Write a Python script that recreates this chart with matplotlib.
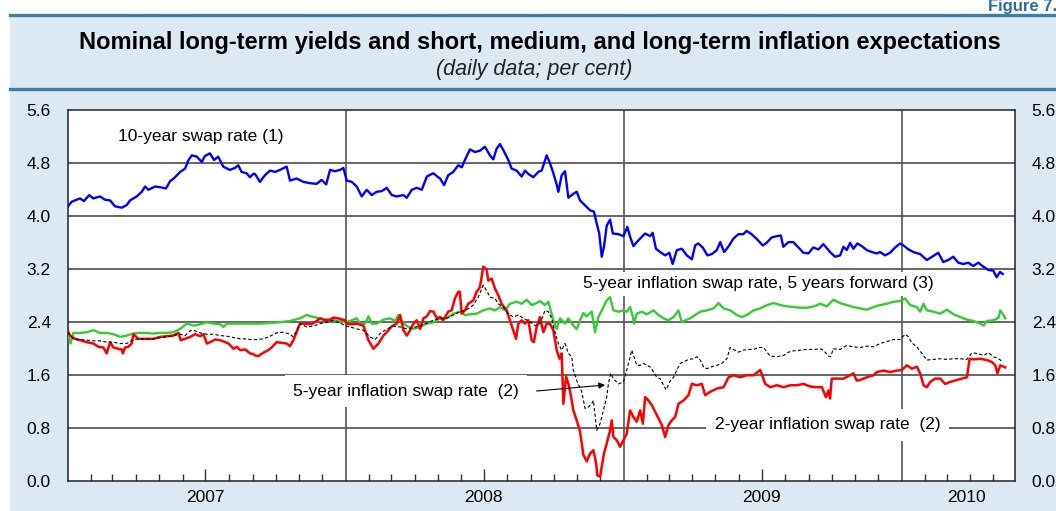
import datetime as dt
import matplotlib
matplotlib.use("Agg")
import matplotlib.pyplot as plt
from matplotlib.patches import Rectangle
from matplotlib.lines import Line2D

plt.rcParams['font.family'] = ['Liberation Sans', 'DejaVu Sans']

# ---------------- data (decimal years, per cent) ----------------
swap10_t = [2007.000, 2007.015, 2007.033, 2007.045, 2007.059, 2007.078, 2007.093, 2007.117, 2007.135, 2007.153,
            2007.171, 2007.195, 2007.213, 2007.225, 2007.249, 2007.267, 2007.279, 2007.291, 2007.315, 2007.333,
            2007.354, 2007.369, 2007.387, 2007.405, 2007.423, 2007.434, 2007.447, 2007.465, 2007.483, 2007.494,
            2007.512, 2007.527, 2007.542, 2007.560, 2007.584, 2007.602, 2007.614, 2007.626, 2007.644, 2007.656,
            2007.668, 2007.674, 2007.692, 2007.710, 2007.728, 2007.746, 2007.764, 2007.788, 2007.800, 2007.824,
            2007.848, 2007.872, 2007.896, 2007.914, 2007.930, 2007.944, 2007.962, 2007.980, 2007.992, 2008.004,
            2008.022, 2008.040, 2008.058, 2008.076, 2008.094, 2008.112, 2008.130, 2008.148, 2008.166, 2008.184,
            2008.208, 2008.220, 2008.238, 2008.256, 2008.274, 2008.292, 2008.315, 2008.333, 2008.340, 2008.354,
            2008.369, 2008.387, 2008.405, 2008.418, 2008.429, 2008.447, 2008.465, 2008.483, 2008.501, 2008.519,
            2008.531, 2008.543, 2008.555, 2008.567, 2008.585, 2008.597, 2008.615, 2008.633, 2008.645, 2008.657,
            2008.675, 2008.693, 2008.705, 2008.723, 2008.735, 2008.747, 2008.759, 2008.765, 2008.777, 2008.789,
            2008.801, 2008.819, 2008.831, 2008.843, 2008.855, 2008.867, 2008.879, 2008.893, 2008.903, 2008.912,
            2008.921, 2008.929, 2008.939, 2008.951, 2008.961, 2008.981, 2008.999, 2009.013, 2009.023, 2009.035,
            2009.047, 2009.065, 2009.077, 2009.095, 2009.104, 2009.116, 2009.131, 2009.149, 2009.164, 2009.176,
            2009.191, 2009.209, 2009.227, 2009.245, 2009.257, 2009.268, 2009.284, 2009.301, 2009.317, 2009.335,
            2009.347, 2009.361, 2009.376, 2009.394, 2009.412, 2009.430, 2009.442, 2009.460, 2009.478, 2009.500,
            2009.514, 2009.532, 2009.550, 2009.565, 2009.574, 2009.592, 2009.610, 2009.628, 2009.646, 2009.664,
            2009.682, 2009.700, 2009.718, 2009.742, 2009.760, 2009.778, 2009.790, 2009.802, 2009.814, 2009.826,
            2009.840, 2009.856, 2009.874, 2009.892, 2009.910, 2009.922, 2009.940, 2009.958, 2009.976, 2009.994,
            2010.006, 2010.024, 2010.042, 2010.066, 2010.090, 2010.113, 2010.131, 2010.149, 2010.167, 2010.185,
            2010.203, 2010.221, 2010.239, 2010.257, 2010.275, 2010.293, 2010.311, 2010.329, 2010.341, 2010.353,
            2010.363]
swap10_v = [4.14, 4.22, 4.25, 4.27, 4.23, 4.32, 4.27, 4.30, 4.25, 4.24,
            4.15, 4.13, 4.17, 4.24, 4.30, 4.37, 4.45, 4.40, 4.45, 4.44,
            4.42, 4.53, 4.59, 4.67, 4.72, 4.84, 4.92, 4.90, 4.82, 4.91,
            4.95, 4.85, 4.90, 4.75, 4.70, 4.73, 4.77, 4.67, 4.65, 4.59,
            4.64, 4.64, 4.52, 4.62, 4.69, 4.67, 4.70, 4.75, 4.54, 4.57,
            4.52, 4.50, 4.49, 4.55, 4.48, 4.70, 4.68, 4.70, 4.73, 4.54,
            4.52, 4.45, 4.30, 4.40, 4.32, 4.37, 4.38, 4.43, 4.32, 4.30,
            4.32, 4.28, 4.40, 4.43, 4.40, 4.60, 4.65, 4.59, 4.57, 4.47,
            4.62, 4.67, 4.77, 4.74, 4.85, 5.01, 4.97, 4.99, 5.05, 4.92,
            4.86, 5.02, 5.09, 5.00, 4.85, 4.72, 4.69, 4.60, 4.69, 4.64,
            4.59, 4.67, 4.69, 4.92, 4.80, 4.65, 4.48, 4.37, 4.62, 4.68,
            4.28, 4.34, 4.37, 4.24, 4.19, 4.14, 4.09, 4.07, 3.89, 3.74,
            3.39, 3.54, 3.86, 3.95, 3.74, 3.73, 3.70, 3.84, 3.69, 3.55,
            3.61, 3.69, 3.74, 3.70, 3.75, 3.51, 3.46, 3.41, 3.45, 3.28,
            3.49, 3.51, 3.41, 3.35, 3.56, 3.59, 3.53, 3.41, 3.43, 3.49,
            3.61, 3.46, 3.54, 3.66, 3.73, 3.73, 3.78, 3.73, 3.66, 3.56,
            3.60, 3.68, 3.70, 3.71, 3.54, 3.61, 3.61, 3.53, 3.45, 3.44,
            3.53, 3.50, 3.58, 3.46, 3.39, 3.41, 3.54, 3.49, 3.60, 3.51,
            3.59, 3.55, 3.49, 3.46, 3.44, 3.46, 3.41, 3.45, 3.53, 3.59,
            3.56, 3.50, 3.46, 3.43, 3.34, 3.40, 3.45, 3.31, 3.34, 3.39,
            3.30, 3.28, 3.30, 3.25, 3.30, 3.24, 3.19, 3.18, 3.08, 3.16,
            3.13]

infl2_t = [2007.000, 2007.009, 2007.027, 2007.045, 2007.069, 2007.093, 2007.111, 2007.129, 2007.141, 2007.153,
           2007.165, 2007.183, 2007.195, 2007.199, 2007.207, 2007.219, 2007.231, 2007.237, 2007.255, 2007.285,
           2007.309, 2007.333, 2007.357, 2007.381, 2007.399, 2007.407, 2007.423, 2007.441, 2007.459, 2007.477,
           2007.489, 2007.501, 2007.513, 2007.531, 2007.549, 2007.567, 2007.579, 2007.597, 2007.609, 2007.621,
           2007.639, 2007.657, 2007.669, 2007.674, 2007.686, 2007.704, 2007.722, 2007.734, 2007.752, 2007.770,
           2007.788, 2007.800, 2007.812, 2007.824, 2007.836, 2007.854, 2007.878, 2007.896, 2007.908, 2007.926,
           2007.944, 2007.956, 2007.974, 2007.998, 2008.004, 2008.022, 2008.040, 2008.064, 2008.082, 2008.100,
           2008.118, 2008.136, 2008.154, 2008.166, 2008.184, 2008.196, 2008.208, 2008.220, 2008.232, 2008.244,
           2008.256, 2008.268, 2008.280, 2008.292, 2008.304, 2008.316, 2008.328, 2008.339, 2008.351, 2008.369,
           2008.381, 2008.393, 2008.405, 2008.411, 2008.417, 2008.429, 2008.441, 2008.459, 2008.471, 2008.483,
           2008.495, 2008.507, 2008.513, 2008.525, 2008.537, 2008.549, 2008.561, 2008.579, 2008.591, 2008.603,
           2008.613, 2008.621, 2008.633, 2008.645, 2008.657, 2008.669, 2008.677, 2008.687, 2008.699, 2008.711,
           2008.723, 2008.735, 2008.747, 2008.759, 2008.769, 2008.777, 2008.783, 2008.793, 2008.801, 2008.809,
           2008.819, 2008.831, 2008.843, 2008.855, 2008.867, 2008.879, 2008.891, 2008.901, 2008.905, 2008.915,
           2008.921, 2008.929, 2008.939, 2008.951, 2008.957, 2008.963, 2008.975, 2008.987, 2008.999, 2009.011,
           2009.023, 2009.035, 2009.047, 2009.059, 2009.069, 2009.077, 2009.089, 2009.101, 2009.113, 2009.125,
           2009.137, 2009.149, 2009.161, 2009.173, 2009.185, 2009.197, 2009.215, 2009.233, 2009.245, 2009.263,
           2009.281, 2009.293, 2009.311, 2009.335, 2009.359, 2009.377, 2009.395, 2009.419, 2009.443, 2009.467,
           2009.491, 2009.509, 2009.527, 2009.551, 2009.575, 2009.599, 2009.623, 2009.647, 2009.671, 2009.695,
           2009.713, 2009.727, 2009.736, 2009.742, 2009.748, 2009.766, 2009.790, 2009.814, 2009.826, 2009.838,
           2009.850, 2009.874, 2009.898, 2009.910, 2009.934, 2009.958, 2009.982, 2010.000, 2010.018, 2010.036,
           2010.054, 2010.066, 2010.078, 2010.090, 2010.102, 2010.120, 2010.138, 2010.156, 2010.174, 2010.198,
           2010.216, 2010.234, 2010.244, 2010.258, 2010.282, 2010.306, 2010.324, 2010.336, 2010.344, 2010.354,
           2010.372]
infl2_v = [2.28, 2.20, 2.15, 2.13, 2.10, 2.08, 2.03, 2.02, 1.93, 2.10,
           2.02, 2.00, 1.99, 1.93, 2.02, 2.03, 2.08, 2.22, 2.15, 2.15,
           2.15, 2.18, 2.19, 2.20, 2.24, 2.13, 2.15, 2.18, 2.22, 2.19,
           2.22, 2.08, 2.10, 2.14, 2.13, 2.10, 2.08, 2.00, 2.03, 1.98,
           1.99, 1.93, 1.92, 1.90, 1.89, 1.94, 1.98, 2.02, 2.10, 2.09,
           2.08, 2.04, 2.13, 2.25, 2.38, 2.38, 2.37, 2.42, 2.46, 2.43,
           2.44, 2.47, 2.46, 2.43, 2.38, 2.37, 2.38, 2.35, 2.13, 2.00,
           2.08, 2.20, 2.28, 2.34, 2.38, 2.51, 2.28, 2.20, 2.28, 2.38,
           2.43, 2.30, 2.46, 2.49, 2.57, 2.56, 2.46, 2.48, 2.43, 2.56,
           2.58, 2.76, 2.86, 2.86, 2.53, 2.58, 2.68, 2.73, 2.86, 2.93,
           3.24, 3.20, 3.03, 3.06, 2.91, 2.81, 2.68, 2.58, 2.43, 2.28,
           2.15, 2.38, 2.43, 2.38, 2.43, 2.13, 2.10, 2.33, 2.48, 2.25,
           2.38, 2.38, 2.28, 1.98, 1.85, 1.93, 1.17, 1.58, 1.47, 1.32,
           1.07, 0.92, 0.75, 0.40, 0.30, 0.42, 0.47, 0.27, 0.09, 0.07,
           0.22, 0.42, 0.57, 0.77, 0.92, 0.67, 0.62, 0.52, 0.62, 0.72,
           1.07, 0.97, 0.90, 1.07, 0.87, 1.27, 1.22, 1.15, 1.05, 0.95,
           0.85, 0.67, 0.85, 0.92, 0.97, 1.17, 1.22, 1.30, 1.47, 1.45,
           1.47, 1.30, 1.35, 1.40, 1.42, 1.57, 1.60, 1.57, 1.60, 1.60,
           1.68, 1.47, 1.42, 1.45, 1.42, 1.45, 1.45, 1.47, 1.43, 1.42,
           1.42, 1.27, 1.37, 1.25, 1.55, 1.55, 1.55, 1.60, 1.63, 1.52,
           1.53, 1.57, 1.60, 1.65, 1.67, 1.65, 1.67, 1.68, 1.75, 1.70,
           1.73, 1.63, 1.45, 1.42, 1.50, 1.55, 1.55, 1.47, 1.50, 1.53,
           1.55, 1.57, 1.85, 1.84, 1.85, 1.83, 1.80, 1.75, 1.63, 1.75,
           1.72]

infl5_t = [2007.000, 2007.021, 2007.045, 2007.069, 2007.093, 2007.117, 2007.141, 2007.165, 2007.189, 2007.213,
           2007.237, 2007.261, 2007.285, 2007.309, 2007.333, 2007.357, 2007.381, 2007.405, 2007.423, 2007.441,
           2007.453, 2007.477, 2007.501, 2007.525, 2007.549, 2007.573, 2007.597, 2007.621, 2007.645, 2007.656,
           2007.680, 2007.704, 2007.728, 2007.752, 2007.776, 2007.800, 2007.812, 2007.836, 2007.860, 2007.884,
           2007.908, 2007.932, 2007.956, 2007.980, 2007.998, 2008.016, 2008.040, 2008.064, 2008.088, 2008.106,
           2008.124, 2008.148, 2008.172, 2008.196, 2008.220, 2008.244, 2008.268, 2008.292, 2008.316, 2008.340,
           2008.363, 2008.387, 2008.411, 2008.435, 2008.459, 2008.477, 2008.495, 2008.507, 2008.519, 2008.537,
           2008.549, 2008.567, 2008.585, 2008.603, 2008.621, 2008.639, 2008.663, 2008.681, 2008.699, 2008.717,
           2008.729, 2008.741, 2008.753, 2008.765, 2008.777, 2008.789, 2008.801, 2008.813, 2008.819, 2008.831,
           2008.849, 2008.861, 2008.873, 2008.885, 2008.891, 2008.903, 2008.915, 2008.927, 2008.939, 2008.945,
           2008.953, 2008.963, 2008.981, 2008.999, 2009.011, 2009.023, 2009.029, 2009.041, 2009.047, 2009.059,
           2009.071, 2009.083, 2009.095, 2009.107, 2009.119, 2009.131, 2009.143, 2009.153, 2009.165, 2009.179,
           2009.191, 2009.203, 2009.215, 2009.233, 2009.251, 2009.263, 2009.275, 2009.287, 2009.299, 2009.317,
           2009.335, 2009.353, 2009.371, 2009.383, 2009.395, 2009.413, 2009.431, 2009.449, 2009.467, 2009.485,
           2009.503, 2009.515, 2009.527, 2009.551, 2009.575, 2009.593, 2009.611, 2009.635, 2009.659, 2009.683,
           2009.707, 2009.718, 2009.736, 2009.744, 2009.754, 2009.778, 2009.802, 2009.826, 2009.850, 2009.874,
           2009.898, 2009.922, 2009.946, 2009.970, 2009.994, 2010.012, 2010.024, 2010.036, 2010.054, 2010.072,
           2010.090, 2010.114, 2010.138, 2010.162, 2010.186, 2010.210, 2010.234, 2010.252, 2010.270, 2010.294,
           2010.312, 2010.330, 2010.348, 2010.364]
infl5_v = [2.25, 2.15, 2.14, 2.13, 2.12, 2.12, 2.10, 2.10, 2.08, 2.08,
           2.14, 2.15, 2.15, 2.15, 2.17, 2.18, 2.20, 2.22, 2.20, 2.27,
           2.28, 2.24, 2.22, 2.22, 2.20, 2.19, 2.17, 2.15, 2.15, 2.14,
           2.14, 2.15, 2.19, 2.24, 2.25, 2.22, 2.18, 2.38, 2.33, 2.34,
           2.38, 2.40, 2.43, 2.39, 2.35, 2.33, 2.30, 2.28, 2.18, 2.14,
           2.23, 2.30, 2.34, 2.33, 2.30, 2.32, 2.35, 2.39, 2.43, 2.46,
           2.46, 2.51, 2.56, 2.59, 2.66, 2.78, 2.96, 2.88, 2.78, 2.76,
           2.68, 2.63, 2.53, 2.48, 2.51, 2.46, 2.41, 2.35, 2.38, 2.58,
           2.56, 2.46, 2.25, 2.08, 1.98, 2.08, 1.93, 1.88, 1.68, 1.52,
           1.35, 1.10, 1.12, 1.17, 1.22, 0.77, 0.87, 1.07, 1.27, 1.47,
           1.63, 1.55, 1.47, 1.50, 1.68, 1.88, 1.98, 1.83, 1.75, 1.75,
           1.78, 1.75, 1.73, 1.65, 1.57, 1.55, 1.45, 1.38, 1.50, 1.57,
           1.68, 1.78, 1.80, 1.84, 1.85, 1.88, 1.83, 1.73, 1.70, 1.73,
           1.75, 1.78, 1.85, 2.02, 1.99, 1.95, 1.98, 1.99, 1.99, 2.02,
           2.02, 1.95, 1.89, 1.88, 1.90, 1.95, 1.97, 1.98, 1.99, 1.99,
           2.00, 1.98, 1.89, 1.88, 2.00, 1.99, 2.05, 2.03, 2.02, 2.04,
           2.03, 2.08, 2.11, 2.14, 2.14, 2.22, 2.18, 2.09, 2.03, 1.93,
           1.83, 1.84, 1.85, 1.84, 1.85, 1.85, 1.84, 1.94, 1.93, 1.90,
           1.94, 1.88, 1.85, 1.80]

fwd55_t = [2007.000, 2007.011, 2007.021, 2007.045, 2007.069, 2007.093, 2007.117, 2007.141, 2007.165, 2007.189,
           2007.213, 2007.237, 2007.261, 2007.285, 2007.309, 2007.333, 2007.357, 2007.381, 2007.405, 2007.429,
           2007.453, 2007.477, 2007.501, 2007.525, 2007.549, 2007.561, 2007.573, 2007.597, 2007.621, 2007.645,
           2007.656, 2007.692, 2007.728, 2007.764, 2007.800, 2007.836, 2007.860, 2007.884, 2007.908, 2007.932,
           2007.956, 2007.980, 2007.998, 2008.016, 2008.040, 2008.052, 2008.070, 2008.082, 2008.094, 2008.112,
           2008.136, 2008.160, 2008.178, 2008.190, 2008.208, 2008.226, 2008.244, 2008.268, 2008.292, 2008.316,
           2008.340, 2008.363, 2008.387, 2008.411, 2008.429, 2008.447, 2008.471, 2008.495, 2008.519, 2008.537,
           2008.555, 2008.573, 2008.591, 2008.615, 2008.633, 2008.651, 2008.669, 2008.687, 2008.699, 2008.717,
           2008.729, 2008.747, 2008.759, 2008.771, 2008.789, 2008.801, 2008.819, 2008.831, 2008.843, 2008.855,
           2008.867, 2008.885, 2008.897, 2008.909, 2008.927, 2008.939, 2008.951, 2008.963, 2008.981, 2008.999,
           2009.011, 2009.023, 2009.033, 2009.037, 2009.047, 2009.065, 2009.083, 2009.107, 2009.125, 2009.143,
           2009.161, 2009.179, 2009.197, 2009.209, 2009.221, 2009.239, 2009.257, 2009.275, 2009.299, 2009.323,
           2009.341, 2009.359, 2009.383, 2009.407, 2009.425, 2009.443, 2009.467, 2009.491, 2009.515, 2009.539,
           2009.563, 2009.587, 2009.611, 2009.635, 2009.659, 2009.683, 2009.707, 2009.730, 2009.754, 2009.778,
           2009.802, 2009.826, 2009.850, 2009.874, 2009.898, 2009.922, 2009.946, 2009.970, 2009.994, 2010.012,
           2010.030, 2010.054, 2010.066, 2010.078, 2010.090, 2010.114, 2010.138, 2010.162, 2010.186, 2010.210,
           2010.234, 2010.258, 2010.282, 2010.294, 2010.306, 2010.330, 2010.348, 2010.354, 2010.364, 2010.372]
fwd55_v = [2.25, 2.08, 2.24, 2.24, 2.25, 2.28, 2.24, 2.24, 2.22, 2.18,
           2.20, 2.23, 2.24, 2.24, 2.23, 2.24, 2.24, 2.25, 2.30, 2.38,
           2.35, 2.37, 2.40, 2.38, 2.37, 2.33, 2.38, 2.38, 2.38, 2.38,
           2.38, 2.38, 2.39, 2.40, 2.42, 2.46, 2.51, 2.48, 2.46, 2.44,
           2.43, 2.42, 2.40, 2.42, 2.46, 2.38, 2.38, 2.49, 2.38, 2.38,
           2.44, 2.46, 2.42, 2.51, 2.38, 2.33, 2.30, 2.33, 2.38, 2.40,
           2.46, 2.46, 2.53, 2.56, 2.51, 2.52, 2.53, 2.58, 2.61, 2.58,
           2.63, 2.58, 2.68, 2.71, 2.68, 2.74, 2.66, 2.69, 2.72, 2.66,
           2.71, 2.43, 2.30, 2.46, 2.38, 2.46, 2.35, 2.30, 2.43, 2.54,
           2.49, 2.56, 2.25, 2.48, 2.63, 2.73, 2.78, 2.58, 2.56, 2.58,
           2.56, 2.63, 2.48, 2.38, 2.53, 2.56, 2.52, 2.58, 2.51, 2.46,
           2.43, 2.48, 2.58, 2.40, 2.43, 2.46, 2.51, 2.56, 2.58, 2.61,
           2.69, 2.61, 2.58, 2.51, 2.48, 2.51, 2.58, 2.61, 2.66, 2.69,
           2.66, 2.64, 2.63, 2.62, 2.62, 2.64, 2.68, 2.64, 2.74, 2.69,
           2.66, 2.63, 2.61, 2.59, 2.63, 2.66, 2.68, 2.71, 2.72, 2.76,
           2.66, 2.63, 2.56, 2.68, 2.58, 2.56, 2.53, 2.59, 2.52, 2.48,
           2.44, 2.42, 2.38, 2.35, 2.42, 2.43, 2.47, 2.58, 2.52, 2.46]

y_ticks = [0.0, 0.8, 1.6, 2.4, 3.2, 4.0, 4.8, 5.6]
year_labels = ["2007", "2008", "2009", "2010"]
year_label_pos = [2007.496, 2008.497, 2009.496, 2010.231]
x_start, x_end = 2007.0, 2010.407

title = "Nominal long-term yields and short, medium, and long-term inflation expectations"
subtitle = "(daily data; per cent)"

# ---------------- figure ----------------
W, H = 1056, 511
fig = plt.figure(figsize=(W / 100, H / 100), dpi=100)
fig.patch.set_facecolor('white')

band = '#dde9f2'
rule = '#3f7ea6'
fig.patches.append(Rectangle((10 / W, 0), 1, 1 - 16 / H, transform=fig.transFigure,
                             facecolor=band, edgecolor='none', zorder=-5))
for yy in (15.5, 89.5):
    fig.lines.append(Line2D([10 / W, 1], [1 - yy / H] * 2, transform=fig.transFigure,
                            color=rule, lw=2.4, zorder=-4))

fig.text(1057 / W, 1 - 6 / H, "Figure 7.", ha='right', va='center', fontsize=12,
         fontweight='bold', color='#2b6ea6')
fig.text(540 / W, 1 - 42 / H, title, ha='center', va='center', fontsize=17,
         fontweight='bold', color='black')
fig.text(534 / W, 1 - 70 / H, subtitle, ha='center', va='center', fontsize=15.5,
         style='italic', color='#222222')

L, R, T, B = 67.5, 1015, 110.3, 481.3
ax = fig.add_axes([L / W, 1 - B / H, (R - L) / W, (B - T) / H])
ax.set_zorder(2)
ax.set_facecolor('white')
ax.set_xlim(x_start, x_end)
ax.set_ylim(0, 5.6)

for v in y_ticks[1:-1]:
    ax.axhline(v, color='#3c3c3c', lw=1.1, zorder=1)
for yr in (2008, 2009, 2010):
    ax.axvline(yr, color='#555555', lw=1.2, zorder=1)

ax.plot(swap10_t, swap10_v, color='#0000ff', lw=1.7, zorder=3)
ax.plot(fwd55_t, fwd55_v, color='#33cc33', lw=1.7, zorder=3)
ax.plot(infl2_t, infl2_v, color='#ff0000', lw=1.8, zorder=3)
ax.plot(infl5_t, infl5_v, color='black', lw=0.8, ls=(0, (3, 2)), zorder=4)

for s in ax.spines.values():
    s.set_color('#222222')
    s.set_linewidth(1.1)

ax.set_yticks(y_ticks)
ax.set_yticklabels([f"{v:.1f}" for v in y_ticks])
ax.tick_params(axis='y', length=0, labelsize=12.5, left=False, right=False,
               labelleft=True, labelright=True, pad=12)

def month_pos(y, m):
    d0 = dt.date(y, 1, 1)
    n = (dt.date(y + 1, 1, 1) - d0).days
    return y + (dt.date(y, m, 1) - d0).days / n

minor = [month_pos(y, m) for y in range(2007, 2011) for m in range(1, 13)
         if m not in (1, 7) and month_pos(y, m) < x_end]
major = [month_pos(y, 7) for y in (2007, 2008, 2009)]
ax.set_xticks(major)
ax.set_xticklabels([])
ax.set_xticks(minor, minor=True)
ax.tick_params(axis='x', which='major', direction='in', length=9, width=1.0,
               color='#333333', top=False)
ax.tick_params(axis='x', which='minor', direction='in', length=5, width=1.0,
               color='#333333', top=False)
for lab, pos in zip(year_labels, year_label_pos):
    ax.text(pos, -0.043, lab, transform=ax.get_xaxis_transform(), ha='center',
            va='center', fontsize=12.5)

box = dict(facecolor='white', edgecolor='none', pad=3)
ax.text(2007.182, 5.20, "10-year swap rate (1)", ha='left', va='center',
        fontsize=12.5, bbox=box, zorder=5)
ax.text(2008.854, 2.98, "5-year inflation swap rate, 5 years forward (3)", ha='left',
        va='center', fontsize=12.5, bbox=box, zorder=5)
ax.text(2007.811, 1.36, "5-year inflation swap rate  (2)", ha='left', va='center',
        fontsize=12.5, bbox=dict(facecolor='white', edgecolor='none', pad=6), zorder=5)
ax.text(2009.327, 0.85, "2-year inflation swap rate  (2)", ha='left', va='center',
        fontsize=12.5, bbox=dict(facecolor='white', edgecolor='none', pad=6), zorder=5)
ax.annotate('', xy=(2008.933, 1.454), xytext=(2008.687, 1.363),
            arrowprops=dict(arrowstyle='-|>', color='black', lw=0.8,
                            mutation_scale=9, shrinkA=0, shrinkB=0), zorder=6)

fig.savefig('out.png', dpi=100)
